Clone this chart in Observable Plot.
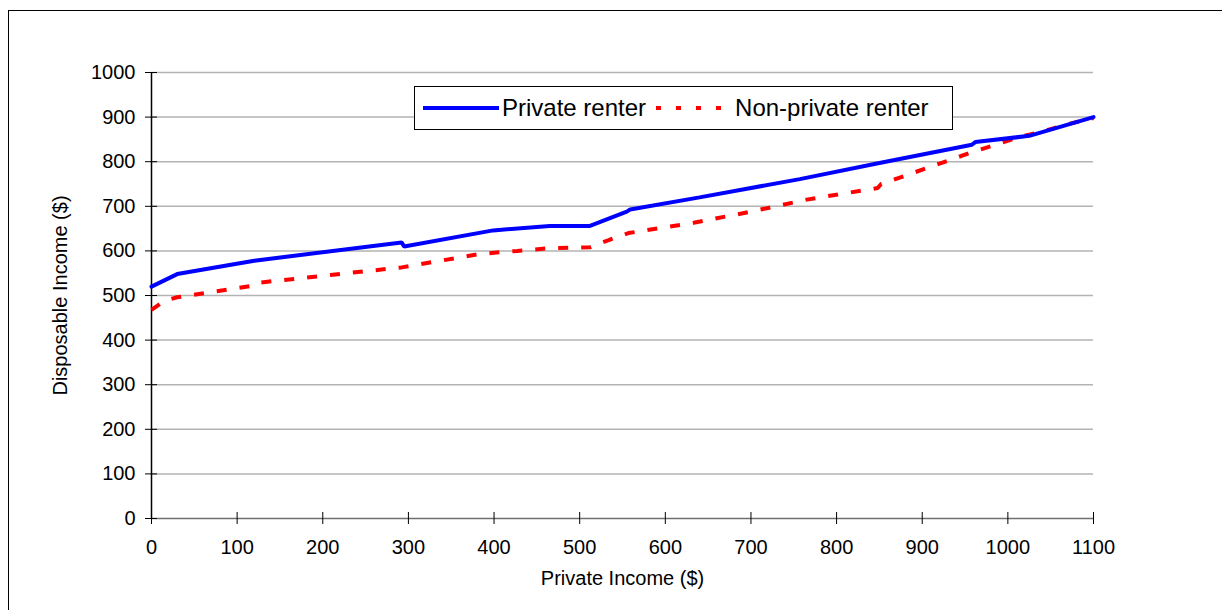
<!DOCTYPE html>
<html>
<head>
<meta charset="utf-8">
<script src="https://cdn.jsdelivr.net/npm/d3@7"></script>
<script src="https://cdn.jsdelivr.net/npm/@observablehq/plot@0.6"></script>
<style>
  html, body { margin: 0; padding: 0; background: #fff; overflow: hidden; }
  #wrap { position: relative; width: 1222px; height: 610px; overflow: hidden; font-family: "Liberation Sans", Arial, sans-serif; }
  #border { position: absolute; left: 8px; top: 10px; width: 1400px; height: 800px; border: 1.5px solid #000; box-sizing: border-box; pointer-events: none; }
  #chart { position: absolute; left: 0; top: 0; }
  #legend { position: absolute; left: 414px; top: 86px; width: 539px; height: 44px; border: 1px solid #000; box-sizing: border-box; background: #fff; display: flex; align-items: center; font-size: 24px; color: #000; white-space: nowrap; }
  #legend svg { display: block; }
</style>
</head>
<body>
<div id="wrap">
  <div id="chart"></div>
  <div id="border"></div>
  <div id="legend"></div>
</div>
<script>
// Series names
const seriesNames = ["Private renter", "Non-private renter"];

// Private renter: private income ($) -> disposable income ($)
const privateIncome = [0, 30, 120, 292, 295, 399, 465, 512, 555, 559, 640, 757, 850, 958, 962, 1025, 1100];
const privateDisposable = [520, 548, 578, 619, 610, 646, 656, 656, 688, 693, 720, 761, 797, 838, 844, 858, 900];

// Non-private renter
const nonPrivateIncome = [0, 15, 30, 118, 122, 209, 292, 380, 400, 427, 465, 512, 535, 557, 633, 700, 765, 848, 852, 909, 959, 986, 1014, 1041, 1068, 1100];
const nonPrivateDisposable = [468, 488, 496, 522, 528, 546, 563, 592, 596, 600, 606, 608, 625, 640, 663, 688, 715, 741, 750, 788, 822, 838, 856, 868, 883, 898];

// Tick values
const xTicks = [0, 100, 200, 300, 400, 500, 600, 700, 800, 900, 1000, 1100];
const yTicks = [0, 100, 200, 300, 400, 500, 600, 700, 800, 900, 1000];
const gridValues = yTicks.filter(d => d > 0);

const privateData = privateIncome.map((x, i) => ({x, y: privateDisposable[i]}));
const nonPrivateData = nonPrivateIncome.map((x, i) => ({x, y: nonPrivateDisposable[i]}));

const BLUE = "#0000FF";
const RED = "#FF0000";
const fmt = d => String(d);

const chart = Plot.plot({
  width: 1222,
  height: 610,
  marginLeft: 151,
  marginRight: 129,
  marginTop: 72,
  marginBottom: 92,
  style: {fontFamily: "'Liberation Sans', Arial, sans-serif", fontSize: "20px", color: "#000", background: "transparent"},
  x: {domain: [0, 1100]},
  y: {domain: [0, 1000]},
  marks: [
    Plot.gridY(gridValues, {stroke: "#b3b3b3", strokeOpacity: 1, strokeWidth: 1.5}),
    Plot.ruleY([0], {stroke: "#707070", strokeWidth: 1.5}),
    Plot.ruleX([0], {stroke: "#000", strokeWidth: 1.5}),
    // crossing ticks (outward part + inward part)
    Plot.axisY(yTicks, {anchor: "left", tickSize: 12, dx: 6, tickFormat: () => "", label: null, stroke: "#000"}),
    Plot.axisY(yTicks, {anchor: "left", tickSize: 0, tickPadding: 16, tickFormat: fmt, label: "Disposable Income ($)", labelAnchor: "center", labelOffset: 99, labelArrow: "none", fontSize: 20}),
    Plot.axisX(xTicks, {anchor: "bottom", tickSize: 12, dy: -6, tickFormat: () => "", label: null, stroke: "#000"}),
    Plot.axisX(xTicks, {anchor: "bottom", tickSize: 0, tickPadding: 21, tickFormat: fmt, label: "Private Income ($)", labelAnchor: "center", labelOffset: 66, labelArrow: "none", fontSize: 20}),
    Plot.line(nonPrivateData, {x: "x", y: "y", stroke: RED, strokeWidth: 4, strokeDasharray: "10,13", strokeLinejoin: "miter", strokeLinecap: "butt"}),
    Plot.line(privateData, {x: "x", y: "y", stroke: BLUE, strokeWidth: 4, strokeLinejoin: "miter"})
  ]
});
document.getElementById("chart").appendChild(chart);

// Legend
const legend = document.getElementById("legend");
function sample(color, dash) {
  const ns = "http://www.w3.org/2000/svg";
  const s = document.createElementNS(ns, "svg");
  s.setAttribute("width", 80);
  s.setAttribute("height", 10);
  const l = document.createElementNS(ns, "line");
  l.setAttribute("x1", 2); l.setAttribute("x2", 78);
  l.setAttribute("y1", 5); l.setAttribute("y2", 5);
  l.setAttribute("stroke", color);
  l.setAttribute("stroke-width", 4);
  if (dash) l.setAttribute("stroke-dasharray", dash);
  s.appendChild(l);
  return s;
}
const colors = [BLUE, RED];
const dashes = [null, "5,15"];
seriesNames.forEach((name, i) => {
  const sw = sample(colors[i], dashes[i]);
  sw.style.marginLeft = i === 0 ? "6px" : "8px";
  legend.appendChild(sw);
  const t = document.createElement("span");
  t.textContent = name;
  t.style.marginLeft = "1px";
  legend.appendChild(t);
});
</script>
</body>
</html>
